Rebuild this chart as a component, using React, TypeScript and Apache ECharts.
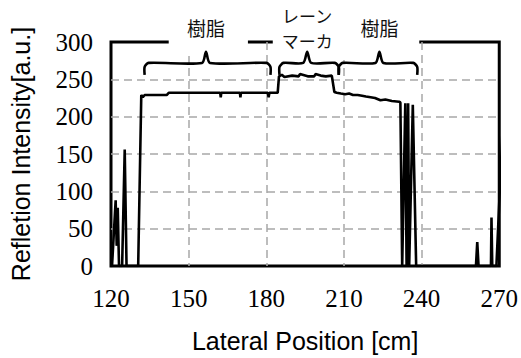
import React, { useEffect, useRef } from "react";
import * as echarts from "echarts";

// Lateral positions [cm]
const positions = [
  120.0, 120.4, 121.8, 122.2, 122.6, 123.1, 124.3, 125.3, 126.0,
  130.5, 131.7, 132.3, 133.0, 141.5, 142.3, 162.2, 162.4, 162.6, 169.8, 170.0, 170.2, 180.6, 180.9, 181.2, 184.4,
  184.9, 186.0, 187.0, 190.0, 192.5, 193.0, 196.0, 198.5, 199.0, 201.0, 203.0, 205.3,
  206.3, 207.2, 208.8, 210.5, 212.0, 213.5, 215.3, 217.0, 218.5, 220.3, 222.0, 224.1, 226.0, 228.5, 231.3,
  231.8, 232.5, 233.7, 234.2, 234.8, 235.2, 236.6, 237.9,
  261.0, 261.5, 262.0, 266.8, 267.0, 267.3, 268.9, 271.5,
];
// Reflection intensity [a.u.]
const intensities = [
  0, 0, 88, 27, 78, 0, 0, 156, 0,
  0, 229, 226, 229, 229, 232, 232, 226, 232, 232, 226, 232, 232, 226, 232, 232,
  254, 256, 253, 255, 254, 257, 254, 254, 257, 255, 254, 255,
  233, 232, 231, 230, 231, 229, 229, 228, 227, 226, 225, 222, 223, 221, 220,
  219, 0, 218, 0, 218, 0, 216, 0,
  0, 32, 0, 0, 65, 0, 0, 200,
];

const xTicks = [120, 150, 180, 210, 240, 270];
const yTicks = [0, 50, 100, 150, 200, 250, 300];

// Region annotations: [start, end, peak] in cm
const braceStarts = [133.0, 185.1, 208.0];
const braceEnds = [181.6, 208.0, 238.3];
const bracePeaks = [156.7, 195.8, 223.7];
const braceLabelLines = [["樹脂"], ["レーン", "マーカ"], ["樹脂"]];
// Brace levels in intensity units: hook end, bar, peak, label centre
const braceEndLevel = 256;
const braceBarLevel = 272;
const bracePeakLevel = 287;
const labelLevel = 319;
// gaps in the top frame behind labels [from, to] in cm
const gapFrom = [142.3, 182.5];
const gapTo = [172.9, 239.1];

export default function App() {
  const ref = useRef<HTMLDivElement>(null);
  useEffect(() => {
    if (!ref.current) return;
    const chart = echarts.init(ref.current, null, { renderer: "svg" });
    const data = positions.map((p, i) => [p, intensities[i]]);
    const serif = "Liberation Serif";
    const sans = "Liberation Sans";
    const tickRich = { t: { fontFamily: serif, fontSize: 25, color: "#000", lineHeight: 28 } };
    const split = {
      show: true,
      showMinLine: false,
      showMaxLine: false,
      lineStyle: { color: "#a8a8a8", type: [8, 5], width: 1.5 },
    };
    chart.setOption({
      animation: false,
      backgroundColor: "#fff",
      grid: {
        left: 111,
        right: 18,
        top: 42,
        bottom: 91,
        show: true,
        borderColor: "#000",
        borderWidth: 3,
        backgroundColor: "transparent",
      },
      xAxis: {
        type: "value",
        min: 120,
        max: 270,
        interval: 30,
        axisLine: { show: false },
        axisTick: { show: false },
        axisLabel: {
          fontFamily: serif,
          fontSize: 25,
          color: "#000",
          margin: 18,
          rich: tickRich,
          formatter: (v: number) => (xTicks.includes(v) ? `{t|${v}}` : ""),
        },
        splitLine: split,
        name: "Lateral Position [cm]",
        nameLocation: "middle",
        nameGap: 62,
        nameTextStyle: { fontFamily: sans, fontSize: 25, color: "#000" },
      },
      yAxis: {
        type: "value",
        min: 0,
        max: 300,
        interval: 50,
        axisLine: { show: false },
        axisTick: { show: false },
        axisLabel: {
          fontFamily: serif,
          fontSize: 25,
          color: "#000",
          margin: 18,
          rich: tickRich,
          formatter: (v: number) => (yTicks.includes(v) ? `{t|${v}}` : ""),
        },
        splitLine: split,
        name: "Refletion Intensity[a.u.]",
        nameLocation: "middle",
        nameRotate: 90,
        nameGap: 78,
        nameTextStyle: { fontFamily: sans, fontSize: 25, color: "#000" },
      },
      series: [
        {
          type: "line",
          data,
          showSymbol: false,
          symbol: "none",
          clip: true,
          lineStyle: { color: "#000", width: 2.6 },
          z: 5,
        },
      ],
    });

    const px = (x: number, y: number) => chart.convertToPixel({ gridIndex: 0 }, [x, y]) as number[];
    const graphics: any[] = [];
    gapFrom.forEach((f, i) => {
      const a = px(f, 300);
      const b = px(gapTo[i], 300);
      graphics.push({
        type: "rect",
        z: 50,
        shape: { x: a[0], y: 0, width: b[0] - a[0], height: i === 0 ? 56 : 60 },
        style: { fill: "#fff" },
      });
    });
    braceStarts.forEach((s, i) => {
      const e = braceEnds[i];
      const p = bracePeaks[i];
      const yEnd = px(s, braceEndLevel)[1];
      const yBar = px(s, braceBarLevel)[1];
      const yPk = px(s, bracePeakLevel)[1];
      const x0 = px(s, 0)[0];
      const x1 = px(e, 0)[0];
      const xp = px(p, 0)[0];
      const r = 4;
      graphics.push({
        type: "polyline",
        z: 60,
        shape: {
          points: [
            [x0, yEnd],
            [x0, yBar + r],
            [x0 + r, yBar],
            [xp - r, yBar],
            [xp, yPk],
            [xp + r, yBar],
            [x1 - r, yBar],
            [x1, yBar + r],
            [x1, yEnd],
          ],
          smooth: 0.25,
        },
        style: { stroke: "#000", lineWidth: 2.6, fill: null },
      });
      const lp = px(p, labelLevel);
      const lines = braceLabelLines[i];
      const lh = 25;
      const fs = lines.length > 1 ? 17 : 19;
      lines.forEach((t, j) => {
        graphics.push({
          type: "text",
          z: 60,
          x: lp[0],
          y: lp[1] + (j - (lines.length - 1) / 2) * lh,
          style: {
            text: t,
            fontFamily: "Noto Sans CJK JP",
            fontSize: fs,
            lineHeight: 22,
            fill: "#111",
            align: "center",
            verticalAlign: "middle",
          },
        });
      });
    });
    chart.setOption({ graphic: graphics });
    return () => chart.dispose();
  }, []);
  return <div ref={ref} style={{ width: 521, height: 358, position: "absolute", left: 0, top: 0 }} />;
}
